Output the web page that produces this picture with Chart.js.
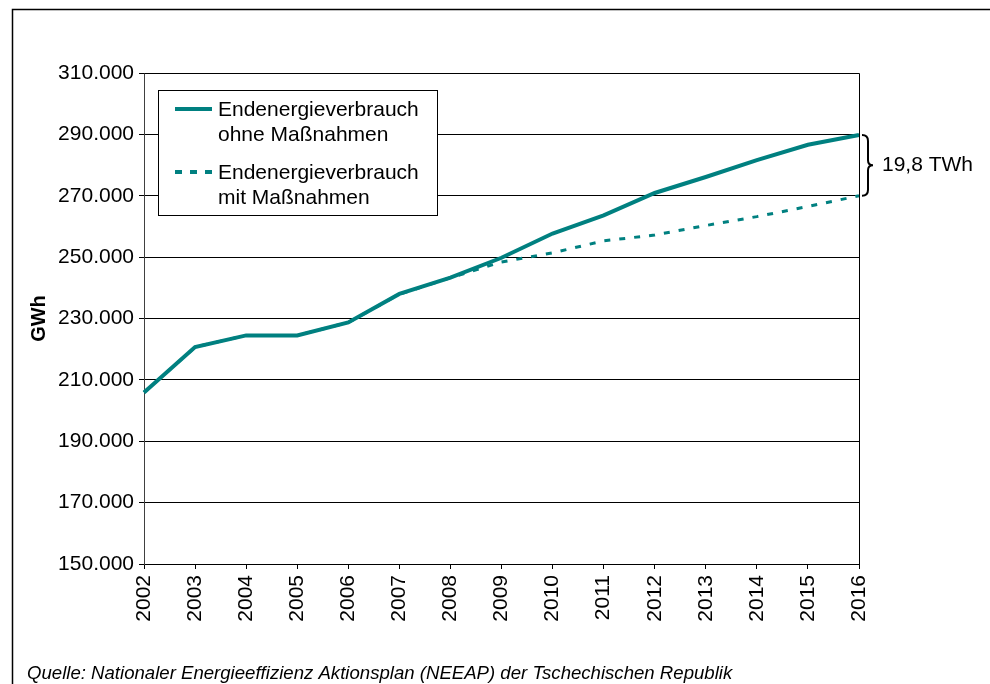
<!DOCTYPE html>
<html lang="de">
<head>
<meta charset="utf-8">
<title>Endenergieverbrauch Tschechische Republik</title>
<script src="https://cdn.jsdelivr.net/npm/chart.js@4/dist/chart.umd.min.js"></script>
<style>
  html, body { margin: 0; padding: 0; background: #ffffff; }
  #wrap { position: relative; width: 990px; height: 684px; }
  canvas { display: block; }
</style>
</head>
<body>
<div id="wrap"><canvas id="chart" width="990" height="684"></canvas></div>
<script>
// Jahre (Kategorien der x-Achse)
const years = ['2002','2003','2004','2005','2006','2007','2008','2009','2010','2011','2012','2013','2014','2015','2016'];

// Endenergieverbrauch in GWh
const ohneMassnahmen = [205900, 220700, 224500, 224500, 228700, 238000, 243300, 249800, 257700, 263600, 270900, 276100, 281600, 286600, 289800];
const mitMassnahmen  = [205900, 220700, 224500, 224500, 228700, 237900, 243300, 248400, 251400, 255300, 257200, 260300, 263200, 266500, 270000];

const seriesNames = [['Endenergieverbrauch', 'ohne Maßnahmen'], ['Endenergieverbrauch', 'mit Maßnahmen']];

// y-Achse
const yMin = 150000, yMax = 310000, yStep = 20000;
const yTitle = 'GWh';
const sourceNote = 'Quelle: Nationaler Energieeffizienz Aktionsplan (NEEAP) der Tschechischen Republik';

const TEAL = '#008080';
const FONT = '"Liberation Sans", Arial, sans-serif';
const TEXT_SIZE = 21;

function fmtThousands(v) {
  return String(Math.round(v)).replace(/\B(?=(\d{3})+(?!\d))/g, '.');
}

// Rahmen, Legende, Klammer und Quellenangabe
const decorations = {
  id: 'decorations',
  beforeDraw(chart) {
    const ctx = chart.ctx;
    ctx.save();
    ctx.fillStyle = '#ffffff';
    ctx.fillRect(0, 0, chart.width, chart.height);
    ctx.restore();
  },
  afterDraw(chart) {
    const ctx = chart.ctx;
    const a = chart.chartArea;
    const ys = chart.scales.y;
    ctx.save();

    // äußerer Rahmen
    ctx.strokeStyle = '#000000';
    ctx.lineWidth = 1.5;
    ctx.strokeRect(12.5, 9.5, 1200, 1200);

    // Rahmen der Zeichenfläche (oben, rechts)
    ctx.lineWidth = 1;
    ctx.beginPath();
    ctx.moveTo(Math.round(a.left) + 0.5, Math.round(a.top) + 0.5);
    ctx.lineTo(Math.round(a.right) + 0.5, Math.round(a.top) + 0.5);
    ctx.lineTo(Math.round(a.right) + 0.5, Math.round(a.bottom) + 0.5);
    ctx.stroke();

    // y-Achsentitel
    ctx.fillStyle = '#000000';
    ctx.font = 'bold 20px ' + FONT;
    ctx.textAlign = 'center';
    ctx.textBaseline = 'middle';
    ctx.save();
    ctx.translate(39, (a.top + a.bottom) / 2);
    ctx.rotate(-Math.PI / 2);
    ctx.fillText(yTitle, 0, 0);
    ctx.restore();

    // Legende
    const lx = a.left + 14, ly = a.top + 17, lw = 279, lh = 125;
    ctx.fillStyle = '#ffffff';
    ctx.fillRect(lx, ly, lw, lh);
    ctx.strokeStyle = '#000000';
    ctx.lineWidth = 1;
    ctx.strokeRect(lx + 0.5, ly + 0.5, lw, lh);
    const ds = chart.data.datasets;
    const rows = [{ d: ds[1], y: ly + 19, names: seriesNames[0] }, { d: ds[0], y: ly + 82, names: seriesNames[1] }];
    ctx.font = TEXT_SIZE + 'px ' + FONT;
    ctx.textAlign = 'left';
    ctx.textBaseline = 'middle';
    rows.forEach(r => {
      ctx.save();
      ctx.strokeStyle = r.d.borderColor;
      ctx.lineWidth = r.d.borderWidth + (r.d.borderDash ? 1 : 0);
      ctx.setLineDash(r.d.borderDash ? [7, 8] : []);
      ctx.beginPath();
      ctx.moveTo(lx + 17, r.y);
      ctx.lineTo(lx + 54, r.y);
      ctx.stroke();
      ctx.restore();
      ctx.fillStyle = '#000000';
      ctx.fillText(r.names[0], lx + 60, r.y + 1);
      ctx.fillText(r.names[1], lx + 60, r.y + 26);
    });

    // Klammer mit Differenz im letzten Jahr
    const last = years.length - 1;
    const yt = ys.getPixelForValue(ohneMassnahmen[last]);
    const yb = ys.getPixelForValue(mitMassnahmen[last]);
    const ym = (yt + yb) / 2;
    const x0 = a.right + 3;
    ctx.strokeStyle = '#000000';
    ctx.lineWidth = 2;
    ctx.beginPath();
    ctx.moveTo(x0, yt);
    ctx.quadraticCurveTo(x0 + 6, yt, x0 + 6, yt + 6);
    ctx.lineTo(x0 + 6, ym - 5);
    ctx.quadraticCurveTo(x0 + 6, ym, x0 + 11, ym);
    ctx.quadraticCurveTo(x0 + 6, ym, x0 + 6, ym + 5);
    ctx.lineTo(x0 + 6, yb - 6);
    ctx.quadraticCurveTo(x0 + 6, yb, x0, yb);
    ctx.stroke();
    const diff = ((ohneMassnahmen[last] - mitMassnahmen[last]) / 1000).toFixed(1).replace('.', ',');
    ctx.fillStyle = '#000000';
    ctx.font = TEXT_SIZE + 'px ' + FONT;
    ctx.textAlign = 'left';
    ctx.textBaseline = 'middle';
    ctx.fillText(diff + ' TWh', x0 + 20, ym);

    // Quellenangabe
    ctx.font = 'italic 18.6px ' + FONT;
    ctx.textBaseline = 'alphabetic';
    ctx.fillText(sourceNote, 27, 679);

    ctx.restore();
  }
};

new Chart(document.getElementById('chart'), {
  type: 'line',
  data: {
    labels: years,
    datasets: [
      {
        label: seriesNames[1].join(' '),
        data: mitMassnahmen,
        borderColor: TEAL,
        backgroundColor: TEAL,
        borderWidth: 3,
        borderDash: [6, 9],
        pointRadius: 0,
        tension: 0,
        fill: false
      },
      {
        label: seriesNames[0].join(' '),
        data: ohneMassnahmen,
        borderColor: TEAL,
        backgroundColor: TEAL,
        borderWidth: 4,
        pointRadius: 0,
        tension: 0,
        fill: false
      }
    ]
  },
  options: {
    responsive: false,
    animation: false,
    devicePixelRatio: 1,
    layout: { padding: { top: 73, right: 131, left: 0, bottom: 0 } },
    plugins: {
      legend: { display: false },
      tooltip: { enabled: false }
    },
    scales: {
      x: {
        type: 'category',
        offset: false,
        grid: { drawOnChartArea: false, drawTicks: true, tickLength: 5, color: '#000000' },
        border: { color: '#000000', width: 1 },
        ticks: {
          color: '#000000',
          font: { family: FONT, size: TEXT_SIZE },
          minRotation: 90,
          maxRotation: 90,
          autoSkip: false,
          padding: 6
        },
        afterFit(scale) { scale.height = 120; }
      },
      y: {
        min: yMin,
        max: yMax,
        grid: { color: '#000000', lineWidth: 1, tickLength: 5, drawTicks: true },
        border: { color: '#404040', width: 1 },
        ticks: {
          stepSize: yStep,
          color: '#000000',
          font: { family: FONT, size: TEXT_SIZE },
          padding: 5,
          callback: v => fmtThousands(v)
        },
        afterFit(scale) { scale.width = 144; }
      }
    }
  },
  plugins: [decorations]
});
</script>
</body>
</html>
